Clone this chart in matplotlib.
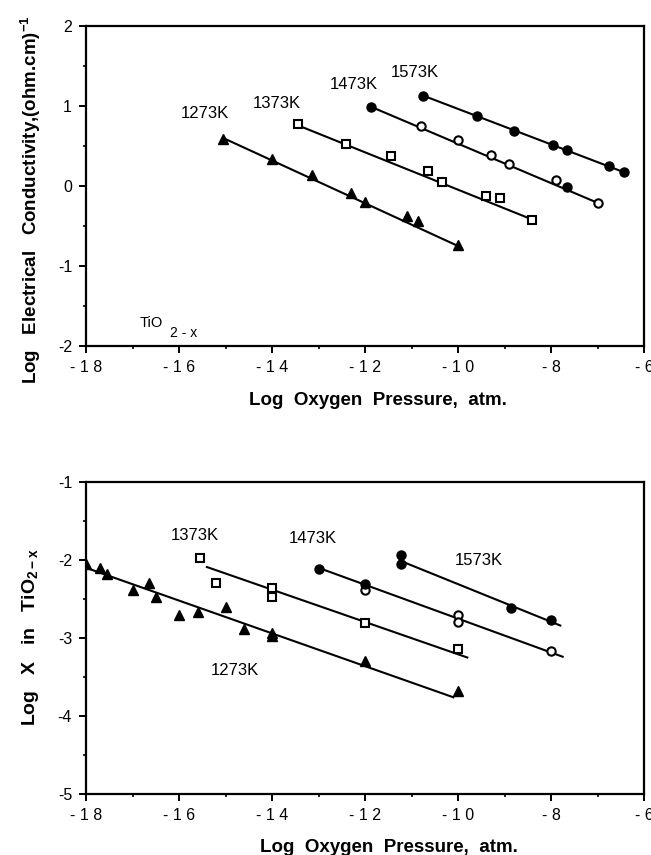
import matplotlib
matplotlib.use("Agg")
import matplotlib.pyplot as plt
from matplotlib.ticker import MultipleLocator

plt.rcParams["font.family"] = ["Liberation Sans", "DejaVu Sans"]
plt.rcParams["axes.unicode_minus"] = False
plt.rcParams["mathtext.fontset"] = "custom"
plt.rcParams["mathtext.rm"] = "Liberation Sans"
plt.rcParams["mathtext.bf"] = "Liberation Sans:bold"

# -------------------------------------------------
# DATA - top panel: log conductivity vs log pO2
# -------------------------------------------------

c1273_x = [-15.05, -14.0, -13.15, -12.3, -12.0, -11.1, -10.85, -10.0]
c1273_y = [0.59, 0.34, 0.14, -0.09, -0.2, -0.37, -0.44, -0.74]
c1273_fit_x = [-15.05, -10.0]
c1273_fit_y = [0.6, -0.75]

c1373_x = [-13.45, -12.4, -11.45, -10.65, -10.35, -9.4, -9.1, -8.4]
c1373_y = [0.77, 0.53, 0.38, 0.19, 0.05, -0.12, -0.15, -0.42]
c1373_fit_x = [-13.45, -8.4]
c1373_fit_y = [0.76, -0.42]

c1473_x = [-11.87, -10.8, -10.0, -9.3, -8.9, -7.9, -7.65, -7.0]
c1473_y = [0.99, 0.75, 0.575, 0.39, 0.27, 0.07, -0.01, -0.21]
c1473_filled = [True, False, False, False, False, False, True, False]
c1473_fit_x = [-11.87, -7.0]
c1473_fit_y = [0.99, -0.21]

c1573_x = [-10.75, -9.6, -8.8, -7.95, -7.65, -6.75, -6.42]
c1573_y = [1.13, 0.88, 0.69, 0.51, 0.45, 0.25, 0.17]
c1573_fit_x = [-10.75, -6.42]
c1573_fit_y = [1.13, 0.17]

# -------------------------------------------------
# DATA - bottom panel: log x in TiO2-x vs log pO2
# -------------------------------------------------

x1273_x = [-18.0, -17.7, -17.55, -17.0, -16.65, -16.5, -16.0,
           -15.6, -15.0, -14.6, -14.0, -14.0, -12.0, -10.0]
x1273_y = [-2.05, -2.1, -2.18, -2.38, -2.3, -2.47, -2.7,
           -2.67, -2.6, -2.88, -2.93, -2.98, -3.3, -3.68]
x1273_fit_x = [-18.0, -10.1]
x1273_fit_y = [-2.1, -3.76]

x1373_x = [-15.55, -15.2, -14.0, -14.0, -12.0, -10.0]
x1373_y = [-1.98, -2.3, -2.36, -2.48, -2.81, -3.14]
x1373_fit_x = [-15.4, -9.8]
x1373_fit_y = [-2.09, -3.25]

x1473_x = [-13.0, -12.0, -12.0, -10.0, -10.0, -8.0]
x1473_y = [-2.11, -2.31, -2.39, -2.71, -2.79, -3.17]
x1473_filled = [True, True, False, False, False, False]
x1473_fit_x = [-13.0, -7.75]
x1473_fit_y = [-2.1, -3.24]

x1573_x = [-11.23, -11.23, -8.85, -8.0]
x1573_y = [-1.94, -2.05, -2.61, -2.77]
x1573_fit_x = [-11.2, -7.8]
x1573_fit_y = [-2.02, -2.84]

temps = ["1273K", "1373K", "1473K", "1573K"]
top_label_x = [-15.44, -13.9, -12.24, -10.92]
top_label_y = [0.9, 1.03, 1.27, 1.42]
bot_label_x = [-14.8, -15.66, -13.13, -9.56]
bot_label_y = [-3.42, -1.69, -1.73, -2.01]

x_ticks = [-18, -16, -14, -12, -10, -8, -6]
x_tick_labels = ["- 1 8", "- 1 6", "- 1 4", "- 1 2", "- 1 0", "- 8", "- 6"]
top_y_ticks = [-2, -1, 0, 1, 2]
bot_y_ticks = [-5, -4, -3, -2, -1]

# -------------------------------------------------
# PLOT
# -------------------------------------------------

W, H = 651, 855
fig = plt.figure(figsize=(W / 100, H / 100), dpi=100)

ax1 = fig.add_axes([86 / W, 1 - 346 / H, 558 / W, 320 / H])
ax2 = fig.add_axes([86 / W, 1 - 794 / H, 558 / W, 312 / H])

LW = 1.5


def style_axes(ax, yticks, ylim):
    ax.set_xlim(-18, -6)
    ax.set_ylim(*ylim)
    ax.set_xticks(x_ticks)
    ax.set_xticklabels(x_tick_labels)
    ax.set_yticks(yticks)
    ax.set_yticklabels([str(t) for t in yticks])
    ax.xaxis.set_minor_locator(MultipleLocator(1))
    ax.yaxis.set_minor_locator(MultipleLocator(0.5))
    ax.tick_params(which="major", direction="out", length=5, width=1.4,
                   labelsize=11.5, pad=5)
    ax.tick_params(which="minor", direction="out", length=2.5, width=1.2)
    for sp in ax.spines.values():
        sp.set_linewidth(1.6)


def pick(vals, flags, want):
    return [v for v, f in zip(vals, flags) if f == want]


# top panel
ax1.plot(c1273_fit_x, c1273_fit_y, color="black", lw=LW)
ax1.plot(c1273_x, c1273_y, "^", color="black", ms=7.5)

ax1.plot(c1373_fit_x, c1373_fit_y, color="black", lw=LW)
ax1.plot(c1373_x, c1373_y, "s", mfc="white", mec="black", mew=1.5, ms=5.5)

ax1.plot(c1473_fit_x, c1473_fit_y, color="black", lw=LW)
ax1.plot(pick(c1473_x, c1473_filled, False),
         pick(c1473_y, c1473_filled, False),
         "o", mfc="white", mec="black", mew=1.5, ms=6)
ax1.plot(pick(c1473_x, c1473_filled, True),
         pick(c1473_y, c1473_filled, True),
         "o", color="black", ms=6.5)

ax1.plot(c1573_fit_x, c1573_fit_y, color="black", lw=LW)
ax1.plot(c1573_x, c1573_y, "o", color="black", ms=6.5)

for t, lx, ly in zip(temps, top_label_x, top_label_y):
    ax1.text(lx, ly, t, ha="center", va="center", fontsize=12)

ax1.text(-16.84, -1.71, "TiO", ha="left", va="center", fontsize=10.5)
ax1.text(-16.19, -1.84, "2 - x", ha="left", va="center", fontsize=10)

style_axes(ax1, top_y_ticks, (-2, 2))

# bottom panel
ax2.plot(x1273_fit_x, x1273_fit_y, color="black", lw=LW)
ax2.plot(x1273_x, x1273_y, "^", color="black", ms=7.5)

ax2.plot(x1373_fit_x, x1373_fit_y, color="black", lw=LW)
ax2.plot(x1373_x, x1373_y, "s", mfc="white", mec="black", mew=1.5, ms=5.5)

ax2.plot(x1473_fit_x, x1473_fit_y, color="black", lw=LW)
ax2.plot(pick(x1473_x, x1473_filled, False),
         pick(x1473_y, x1473_filled, False),
         "o", mfc="white", mec="black", mew=1.5, ms=6)
ax2.plot(pick(x1473_x, x1473_filled, True),
         pick(x1473_y, x1473_filled, True),
         "o", color="black", ms=6.5)

ax2.plot(x1573_fit_x, x1573_fit_y, color="black", lw=LW)
ax2.plot(x1573_x, x1573_y, "o", color="black", ms=6.5)

for t, lx, ly in zip(temps, bot_label_x, bot_label_y):
    ax2.text(lx, ly, t, ha="center", va="center", fontsize=12)

style_axes(ax2, bot_y_ticks, (-5, -1))

# axis labels
fig.text(378 / W, 1 - 400 / H, "Log  Oxygen  Pressure,  atm.",
         ha="center", va="center", fontsize=13.5, fontweight="bold")
fig.text(389 / W, 1 - 847 / H, "Log  Oxygen  Pressure,  atm.",
         ha="center", va="center", fontsize=13.5, fontweight="bold")
fig.text(31 / W, 1 - 200 / H,
         r"Log   Electrical   Conductivity,(ohm.cm)$^{\mathbf{-1}}$",
         rotation=90, ha="center", va="center", fontsize=13.5,
         fontweight="bold")
fig.text(31 / W, 1 - 637 / H, r"Log   X   in   TiO$_{\mathbf{2-x}}$",
         rotation=90, ha="center", va="center", fontsize=14,
         fontweight="bold")

plt.savefig("out.png", dpi=100)
